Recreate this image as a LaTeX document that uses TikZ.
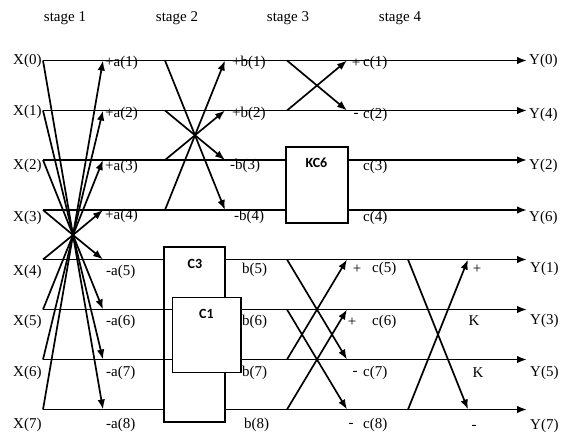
\documentclass[tikz,border=0pt]{standalone}
\usepackage{fontspec}
\setmainfont{Liberation Serif}
\newfontfamily\boxfont{Carlito}
\usetikzlibrary{arrows.meta}
\begin{document}
\begin{tikzpicture}[x=1pt,y=-1pt,
  wire/.style={line width=1.7pt, black},
  arr/.style={wire, -{Latex[length=10pt,width=7.5pt]}},
  lbl/.style={font=\fontsize{15}{18}\selectfont, inner sep=0pt, anchor=west},
  sgn/.style={font=\fontsize{15}{18}\selectfont, inner sep=0pt},
  box/.style={draw, line width=1.7pt, fill=white, inner sep=0pt},
  boxlbl/.style={font=\boxfont\bfseries\fontsize{14}{16}\selectfont, inner sep=0pt},
  stagelbl/.style={font=\fontsize{15}{18}\selectfont, inner sep=0pt}]
\useasboundingbox (0,0) rectangle (568,439);

\foreach \i/\y in {0/60.5,1/110.5,2/160,3/210,4/259.5,5/309.5,6/359.5,7/409.5}{
  \coordinate (s\i) at (43,\y);
  \coordinate (e\i) at (527,\y);
  \coordinate (a\i) at (103,\y);
  \coordinate (bs\i) at (165,\y);
  \coordinate (be\i) at (225,\y);
  \coordinate (cs\i) at (287,\y);
  \coordinate (ce\i) at (347,\y);
  \coordinate (ds\i) at (408,\y);
  \coordinate (de\i) at (468,\y);
}
\coordinate (m1) at (73,235);

% boxes
\node[box, minimum width=61pt, minimum height=175pt] (C3) at (194.5,334.5) {};
\node[box, minimum width=68.5pt, minimum height=75pt] (C1) at (206.75,335) {};
\node[box, minimum width=62pt, minimum height=76pt] (KC6) at (317,185) {};
\node[boxlbl] (C3t) at (195,264) {C3};
\node[boxlbl] (C1t) at (206.5,314) {C1};
\node[boxlbl] (KC6t) at (316.5,163) {KC6};

% horizontal lines
\draw[arr] (s0) -- (e0);
\draw[arr] (s1) -- (e1);
\foreach \i in {2,3}{
  \draw[wire] (s\i) -- (KC6.west |- s\i);
  \draw[arr] (KC6.east |- s\i) -- (e\i);
}
\foreach \i in {4,7}{
  \draw[wire] (s\i) -- (C3.west |- s\i);
  \draw[arr] (C3.east |- s\i) -- (e\i);
}
\foreach \i in {5,6}{
  \draw[wire] (s\i) -- (C1.west |- s\i);
  \draw[arr] (C1.east |- s\i) -- (e\i);
}

% stage 1
\foreach \i in {0,...,7}{
  \draw[wire] (s\i) -- (m1);
  \draw[arr] (m1) -- (a\i);
}
% stage 2
\draw[arr] (bs0) -- (be3);
\draw[arr] (bs1) -- (be2);
\draw[arr] (bs2) -- (be1);
\draw[arr] (bs3) -- (be0);
% stage 3
\draw[arr] (cs0) -- (ce1);
\draw[arr] (cs1) -- (ce0);
\draw[arr] (cs4) -- (ce6);
\draw[arr] (cs5) -- (ce7);
\draw[arr] (cs6) -- (ce4);
\draw[arr] (cs7) -- (ce5);
% stage 4
\draw[arr] (ds4) -- (de7);
\draw[arr] (ds7) -- (de4);

% stage titles
\node[stagelbl] (st1) at (65,18) {stage 1};
\node[stagelbl] (st2) at (177,18) {stage 2};
\node[stagelbl] (st3) at (288,18) {stage 3};
\node[stagelbl] (st4) at (400,18) {stage 4};

% input labels
\foreach \i/\y in {0/61,1/112,2/166,3/218,4/272,5/322,6/373,7/425}{
  \node[lbl] (X\i) at (13,\y) {X(\i)};
}
% stage 1 labels
\node[lbl] (la1) at (105,63) {+a(1)};
\node[lbl] (la2) at (105,114) {+a(2)};
\node[lbl] (la3) at (105,167) {+a(3)};
\node[lbl] (la4) at (105,216) {+a(4)};
\node[lbl] (la5) at (106,272) {-a(5)};
\node[lbl] (la6) at (106,322) {-a(6)};
\node[lbl] (la7) at (106,373) {-a(7)};
\node[lbl] (la8) at (106,425) {-a(8)};
% stage 2 labels
\node[lbl] (lb1) at (232,63) {+b(1)};
\node[lbl] (lb2) at (232,114) {+b(2)};
\node[lbl] (lb3) at (230,166) {-b(3)};
\node[lbl] (lb4) at (234,217) {-b(4)};
\node[lbl] (lb5) at (242,270) {b(5)};
\node[lbl] (lb6) at (242,322) {b(6)};
\node[lbl] (lb7) at (242,373) {b(7)};
\node[lbl] (lb8) at (244,425) {b(8)};
% stage 3 labels
\node[sgn] (sc1) at (356,63) {+};
\node[lbl] (lc1) at (363,63) {c(1)};
\node[sgn] (sc2) at (356,115) {-};
\node[lbl] (lc2) at (363,115) {c(2)};
\node[lbl] (lc3) at (363,167) {c(3)};
\node[lbl] (lc4) at (363,218) {c(4)};
\node[sgn] (sc5) at (357,269) {+};
\node[lbl] (lc5) at (372,269) {c(5)};
\node[sgn] (sc6) at (352,322) {+};
\node[lbl] (lc6) at (372,322) {c(6)};
\node[sgn] (sc7) at (355,373) {-};
\node[lbl] (lc7) at (363,373) {c(7)};
\node[sgn] (sc8) at (351,425) {-};
\node[lbl] (lc8) at (363,425) {c(8)};
% stage 4 labels
\node[sgn] (sd5) at (477,269) {+};
\node[sgn] (sd6) at (474,321) {K};
\node[sgn] (sd7) at (478,373) {K};
\node[sgn] (sd8) at (474,427) {-};
% outputs
\node[lbl] (Y0) at (529,61) {Y(0)};
\node[lbl] (Y4) at (529,115) {Y(4)};
\node[lbl] (Y2) at (529,166) {Y(2)};
\node[lbl] (Y6) at (529,218) {Y(6)};
\node[lbl] (Y1) at (530,269) {Y(1)};
\node[lbl] (Y3) at (530,321) {Y(3)};
\node[lbl] (Y5) at (530,373) {Y(5)};
\node[lbl] (Y7) at (530,426) {Y(7)};
\end{tikzpicture}
\end{document}
